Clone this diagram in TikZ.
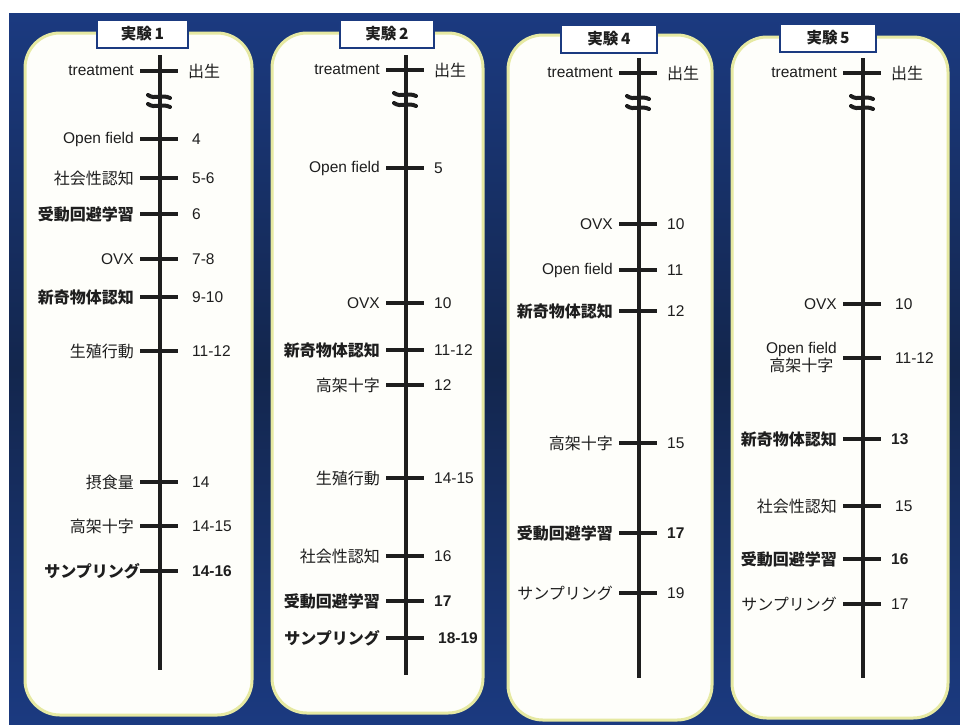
\documentclass[tikz,border=0pt]{standalone}
\usepackage{fontspec}
\setmainfont{Liberation Sans}
\newfontfamily\jp{Noto Sans CJK JP}
\definecolor{navy}{HTML}{1B3A80}
\definecolor{navydark}{HTML}{13264D}
\definecolor{cream}{HTML}{FEFEFA}
\definecolor{rim}{HTML}{E6E9A2}
\definecolor{ink}{HTML}{1E1E1E}
\newcommand\J[1]{{\jp\fontsize{16}{18}\selectfont #1}}
\newcommand\JB[1]{{\jp\bfseries\fontsize{16}{18}\selectfont #1}}
\tikzset{
  panel/.style={draw=rim,line width=3pt,fill=cream,rounded corners=35pt},
  tag/.style={draw=navy,line width=2pt,fill=white,minimum width=#1,minimum height=28pt,inner sep=0pt,font=\fontsize{15.5}{18}\selectfont\bfseries\jp,text=ink},
  axis/.style={draw=ink,line width=4pt},
  tk/.style={draw=ink,line width=4.5pt},
  brk/.style={draw=ink,line width=4pt,line cap=round},
  lbl/.style={inner sep=0pt,text=ink,font=\fontsize{15.5}{18}\selectfont,align=center},
}
\newcommand\ev[5]{%
  \coordinate (#1c) at (#2,#3);
  \draw[tk] ([xshift=-20pt]#1c) -- ([xshift=18pt]#1c);
  \node[lbl,anchor=east] (#1l) at ([xshift=-26pt]#1c) {#4};
  \node[lbl,anchor=west] (#1r) at ([xshift=28pt]#1c) {#5};
}
\newcommand\brkmark[3]{% id, x, y
  \coordinate (#1) at (#2,#3);
  \draw[brk] ([xshift=-11pt,yshift=2pt]#1) .. controls ([xshift=-4pt,yshift=-3pt]#1) and ([xshift=3pt,yshift=3pt]#1) .. ([xshift=11pt,yshift=-1pt]#1);
}
\begin{document}
\begin{tikzpicture}[x=1pt,y=-1pt]
\useasboundingbox (0,0) rectangle (960,724);
\fill[white] (0,0) rectangle (960,724);
\shade[top color=navy,bottom color=navy,middle color=navydark] (9,13) rectangle (960,724);

% panels
\draw[panel] (25,33) rectangle (252,715);
\draw[panel] (272,33) rectangle (483,713);
\draw[panel] (508,35) rectangle (712,720);
\draw[panel] (732,37) rectangle (948,718);

% tags
\node[tag=91pt] (t1) at (142.5,34) {実験\,1};
\node[tag=94pt] (t2) at (387,33.5) {実験\,2};
\node[tag=96pt] (t3) at (609,38.5) {実験\,4};
\node[tag=96pt] (t4) at (828,38) {実験\,5};

% axes
\coordinate (a1t) at (160,55); \coordinate (a1b) at (160,670);
\coordinate (a2t) at (406,55); \coordinate (a2b) at (406,675);
\coordinate (a3t) at (639,58); \coordinate (a3b) at (639,678);
\coordinate (a4t) at (863,58); \coordinate (a4b) at (863,678);
\draw[axis] (a1t) -- (a1b);
\draw[axis] (a2t) -- (a2b);
\draw[axis] (a3t) -- (a3b);
\draw[axis] (a4t) -- (a4b);

% breaks
\brkmark{b1a}{159}{97}\brkmark{b1b}{159}{106}
\brkmark{b2a}{405}{95}\brkmark{b2b}{405}{105}
\brkmark{b3a}{638}{98}\brkmark{b3b}{638}{108}
\brkmark{b4a}{862}{98}\brkmark{b4b}{862}{108}

% panel 1
\ev{p1a}{160}{71}{treatment}{\J{出生}}
\ev{p1b}{160}{139}{Open field}{\hspace{4pt}4}
\ev{p1c}{160}{178}{\J{社会性認知}}{\hspace{4pt}5-6}
\ev{p1d}{160}{214}{\JB{受動回避学習}}{\hspace{4pt}6}
\ev{p1e}{160}{259}{OVX}{\hspace{4pt}7-8}
\ev{p1f}{160}{297}{\JB{新奇物体認知}}{\hspace{4pt}9-10}
\ev{p1g}{160}{351}{\J{生殖行動}}{\hspace{4pt}11-12}
\ev{p1h}{160}{482}{\J{摂食量}}{\hspace{4pt}14}
\ev{p1i}{160}{526}{\J{高架十字}}{\hspace{4pt}14-15}
\ev{p1j}{160}{571}{\JB{サンプリング}\hspace{-6pt}}{\hspace{4pt}\textbf{14-16}}

% panel 2
\ev{p2a}{406}{70}{treatment}{\J{出生}}
\ev{p2b}{406}{168}{Open field}{5}
\ev{p2c}{406}{303}{OVX}{10}
\ev{p2d}{406}{350}{\JB{新奇物体認知}}{11-12}
\ev{p2e}{406}{385}{\J{高架十字}}{12}
\ev{p2f}{406}{478}{\J{生殖行動}}{14-15}
\ev{p2g}{406}{556}{\J{社会性認知}}{16}
\ev{p2h}{406}{601}{\JB{受動回避学習}}{\textbf{17}}
\ev{p2i}{406}{638}{\JB{サンプリング}}{\hspace{4pt}\textbf{18-19}}

% panel 3
\ev{p3a}{639}{73}{treatment}{\J{出生}}
\ev{p3b}{639}{224}{OVX}{10}
\ev{p3c}{639}{270}{Open field}{11}
\ev{p3d}{639}{311}{\JB{新奇物体認知}}{12}
\ev{p3e}{639}{443}{\J{高架十字}}{15}
\ev{p3f}{639}{533}{\JB{受動回避学習}}{\textbf{17}}
\ev{p3g}{639}{593}{\J{サンプリング}}{19}

% panel 4
\ev{p4a}{863}{73}{treatment}{\J{出生}}
\ev{p4b}{863}{304}{OVX}{\hspace{4pt}10}
\ev{p4c}{863}{358}{Open field\\\J{高架十字}}{\hspace{4pt}11-12}
\ev{p4d}{863}{439}{\JB{新奇物体認知}}{\textbf{13}}
\ev{p4e}{863}{506}{\J{社会性認知}}{\hspace{4pt}15}
\ev{p4f}{863}{559}{\JB{受動回避学習}}{\textbf{16}}
\ev{p4g}{863}{604}{\J{サンプリング}}{17}
\end{tikzpicture}
\end{document}
